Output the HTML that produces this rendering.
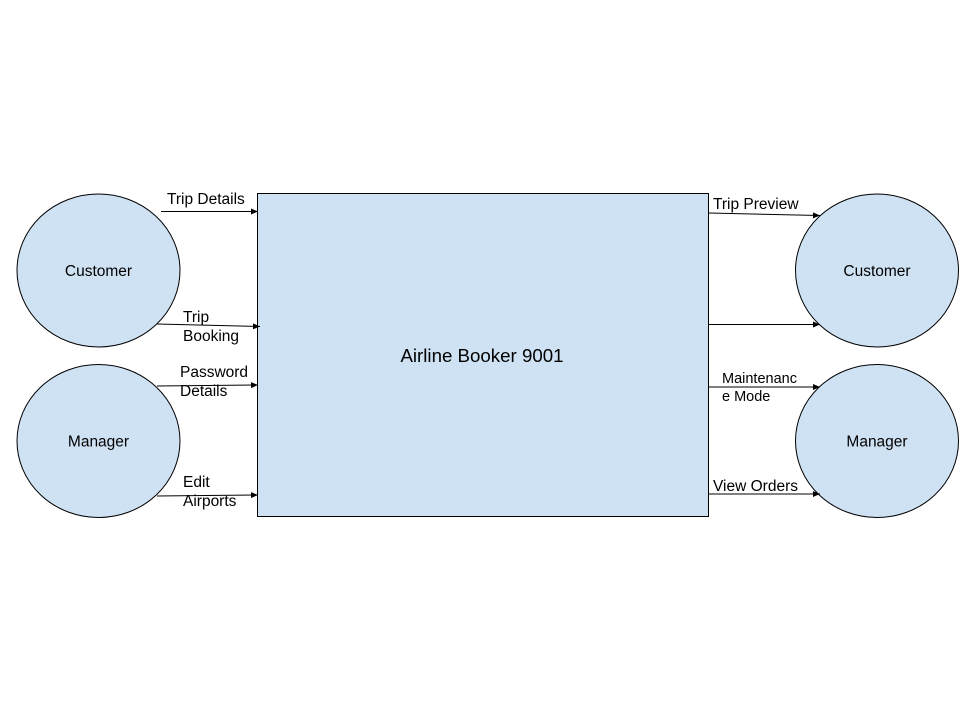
<!DOCTYPE html>
<html><head><style>html,body{margin:0;padding:0;background:#fff;}</style></head>
<body>
<svg width="960" height="720" xmlns="http://www.w3.org/2000/svg" font-family="Liberation Sans, Arial, sans-serif">
<defs><marker id="a" markerWidth="8" markerHeight="6" refX="7" refY="3" orient="auto" markerUnits="userSpaceOnUse"><path d="M0,0 L7,3 L0,6 z" fill="#000"/></marker></defs>
<rect width="960" height="720" fill="#fff"/>
<ellipse cx="98.5" cy="270.5" rx="81.5" ry="76.5" fill="#cfe2f3" stroke="#000" stroke-width="1"/>
<ellipse cx="98.5" cy="441" rx="81.5" ry="76.5" fill="#cfe2f3" stroke="#000" stroke-width="1"/>
<ellipse cx="877" cy="270.5" rx="81.5" ry="76.5" fill="#cfe2f3" stroke="#000" stroke-width="1"/>
<ellipse cx="877" cy="441" rx="81.5" ry="76.5" fill="#cfe2f3" stroke="#000" stroke-width="1"/>
<rect x="257.5" y="193.5" width="451" height="323" fill="#cfe2f3" stroke="#000" stroke-width="1"/>
<g stroke="#000" stroke-width="1" marker-end="url(#a)">
<line x1="161" y1="211.5" x2="258" y2="211.5"/>
<line x1="157" y1="324" x2="260" y2="326.5"/>
<line x1="157" y1="386" x2="258" y2="385"/>
<line x1="157" y1="496" x2="258" y2="495"/>
<line x1="709" y1="213" x2="820" y2="215.5"/>
<line x1="709" y1="324.5" x2="820" y2="324.5"/>
<line x1="709" y1="387" x2="820" y2="387"/>
<line x1="709" y1="494" x2="820" y2="494"/>
</g>
<g font-size="15.5" fill="#000">
<text x="98.5" y="276" text-anchor="middle">Customer</text>
<text x="98.5" y="446.5" text-anchor="middle">Manager</text>
<text x="877" y="276" text-anchor="middle">Customer</text>
<text x="877" y="446.5" text-anchor="middle">Manager</text>
</g>
<g font-size="15.5" fill="#000">
<text x="167" y="204">Trip Details</text>
<text x="183" y="322">Trip</text>
<text x="183" y="341">Booking</text>
<text x="180" y="377">Password</text>
<text x="180" y="396">Details</text>
<text x="183" y="487">Edit</text>
<text x="183" y="506">Airports</text>
<text x="713" y="209">Trip Preview</text>
<text x="713" y="491">View Orders</text>
</g>
<g font-size="14.5" fill="#000">
<text x="722" y="383">Maintenanc</text>
<text x="722" y="401">e Mode</text>
</g>
<text x="482" y="362" font-size="18.7" text-anchor="middle" fill="#000">Airline Booker 9001</text>
</svg>
</body></html>
